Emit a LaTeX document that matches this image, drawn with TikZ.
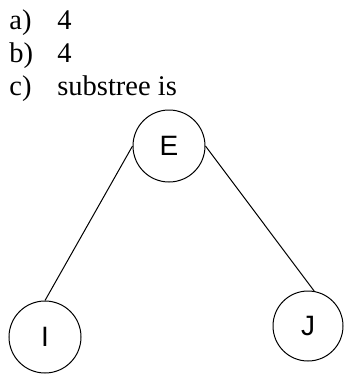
\documentclass[tikz,border=0pt]{standalone}
\usepackage{fontspec}
\setmainfont{Liberation Serif}
\setsansfont{Liberation Sans}
\usepackage{tikz}
\usetikzlibrary{positioning}
\tikzset{every picture/.append style={thick}}

\begin{document}
\begin{tikzpicture}[x=1pt, y=-1pt,
    treenode/.style={circle, draw, line width=1pt, minimum size=72pt, inner sep=0pt,
        font=\sffamily\fontsize{28}{28}\selectfont},
    itemtext/.style={anchor=base west, inner sep=0pt, font=\fontsize{28.5}{33}\selectfont}]
    \useasboundingbox (0,0) rectangle (349,375);

    % --- ANSWER LIST ---
    \node[itemtext] (labA) at (9,29) {a)};
    \node[itemtext] (ansA) at (57,29) {4};
    \node[itemtext] (labB) at (9,62) {b)};
    \node[itemtext] (ansB) at (57,62) {4};
    \node[itemtext] (labC) at (9,95) {c)};
    \node[itemtext] (ansC) at (57,95) {substree is};

    % --- SUBTREE ---
    \node[treenode] (E) at (169,146) {E};
    \node[treenode] (I) at (45,337) {I};
    \node[treenode, minimum size=70pt] (J) at (308,326) {J};

    % Edges
    \draw[line width=1pt] (E.west) -- (I.north);
    \draw[line width=1pt] (E.east) -- (J.80);
\end{tikzpicture}
\end{document}
